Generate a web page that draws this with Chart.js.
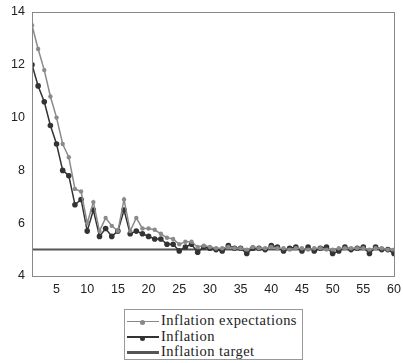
<!DOCTYPE html>
<html lang="en">
<head>
<meta charset="UTF-8">
<title>Inflation expectations</title>
<script src="https://cdn.jsdelivr.net/npm/chart.js"></script>
<style>
  body { margin: 0; background: #fff; }
  #wrap { position: relative; width: 403px; height: 300px; }
  .legend {
    position: absolute; left: 124px; top: 309px; width: 179px; height: 51px;
    border: 1px solid #999; padding: 3px 2px 0 2px; box-sizing: border-box;
    font-family: "Liberation Serif", "DejaVu Serif", serif; font-size: 14.5px; letter-spacing: 0.45px; color: #222;
  }
  .legend div { height: 15.5px; line-height: 15.5px; white-space: nowrap; }
  .sw { display: inline-block; width: 32px; vertical-align: middle; position: relative; margin-right: 2px; }
  .sw i { position: absolute; left: 13px; top: -2px; width: 5px; height: 5px; border-radius: 50%; }
</style>
</head>
<body>
<div id="wrap"><canvas id="chart"></canvas></div>
<div class="legend">
  <div><span class="sw" style="border-top:1px solid #888"><i style="background:#888"></i></span>Inflation expectations</div>
  <div><span class="sw" style="border-top:2px solid #333"><i style="background:#333"></i></span>Inflation</div>
  <div><span class="sw" style="border-top:3px solid #555"></span>Inflation target</div>
</div>
<script>
const periods = Array.from({ length: 60 }, (_, i) => i + 1);
const expectations = [13.5, 12.6, 11.8, 10.8, 10.0, 9.0, 8.5, 7.3, 7.2, 6.0,
  6.8, 5.7, 6.2, 5.9, 5.7, 6.9, 5.7, 6.2, 5.8, 5.8,
  5.75, 5.6, 5.45, 5.4, 5.2, 5.3, 5.3, 5.1, 5.15, 5.1,
  5.05, 5.05, 5.1, 5.05, 5.05, 5.0, 5.1, 5.05, 5.05, 5.1,
  5.05, 5.05, 5.0, 5.05, 5.05, 5.0, 5.05, 5.05, 5.0, 5.0,
  5.05, 5.05, 5.05, 5.05, 5.05, 5.0, 5.05, 5.05, 5.0, 5.0];
const inflation = [12.0, 11.2, 10.6, 9.7, 9.0, 8.0, 7.8, 6.7, 6.9, 5.7,
  6.5, 5.5, 5.8, 5.5, 5.7, 6.5, 5.6, 5.7, 5.6, 5.5,
  5.4, 5.4, 5.2, 5.2, 4.95, 5.1, 5.2, 4.9, 5.1, 5.05,
  5.0, 4.95, 5.15, 5.05, 5.05, 4.85, 5.05, 5.05, 5.0, 5.15,
  5.1, 4.95, 5.05, 5.1, 4.95, 5.1, 4.95, 5.05, 5.1, 4.85,
  4.95, 5.1, 5.0, 5.05, 5.1, 4.85, 5.1, 5.0, 5.0, 4.85];
const target = periods.map(() => 5);
const xTicks = [5, 10, 15, 20, 25, 30, 35, 40, 45, 50, 55, 60];

const toXY = arr => arr.map((v, i) => ({ x: periods[i], y: v }));

// frame around the plot area
const frame = {
  id: 'frame',
  afterDraw(chart) {
    const { ctx, chartArea: a } = chart;
    ctx.save();
    ctx.strokeStyle = '#888';
    ctx.lineWidth = 1;
    ctx.strokeRect(a.left + 0.5, a.top + 0.5, a.right - a.left, a.bottom - a.top);
    ctx.restore();
  }
};

new Chart(document.getElementById('chart'), {
  type: 'line',
  data: {
    datasets: [
      { label: 'Inflation target', data: toXY(target), borderColor: '#555', borderWidth: 2,
        pointRadius: 0, order: 3 },
      { label: 'Inflation', data: toXY(inflation), borderColor: '#333', backgroundColor: '#333',
        borderWidth: 1.5, pointRadius: 2.8, pointBorderWidth: 0, order: 2 },
      { label: 'Inflation expectations', data: toXY(expectations), borderColor: '#8a8a8a',
        backgroundColor: '#8a8a8a', borderWidth: 1.5, pointRadius: 2.2, pointBorderWidth: 0, order: 1 }
    ]
  },
  options: {
    responsive: true,
    maintainAspectRatio: false,
    animation: false,
    layout: { padding: { top: 12, right: 9, left: 0, bottom: 0 } },
    plugins: { legend: { display: false }, tooltip: { enabled: false } },
    scales: {
      x: {
        type: 'linear', min: 1, max: 60,
        afterBuildTicks: s => { s.ticks = xTicks.map(v => ({ value: v })); },
        afterFit: s => { s.height = 24; },
        grid: { display: false, drawTicks: true, tickLength: 5, tickColor: '#888' },
        border: { color: '#888' },
        ticks: { color: '#222', font: { family: 'Liberation Sans', size: 12.5 }, padding: 1, maxRotation: 0 }
      },
      y: {
        min: 4, max: 14,
        afterFit: s => { s.width = 32; },
        grid: { display: false, drawTicks: true, tickLength: 5, tickColor: '#888' },
        border: { color: '#888' },
        ticks: { stepSize: 2, color: '#222', font: { family: 'Liberation Sans', size: 12.5 }, padding: 2 }
      }
    }
  },
  plugins: [frame]
});
</script>
</body>
</html>
